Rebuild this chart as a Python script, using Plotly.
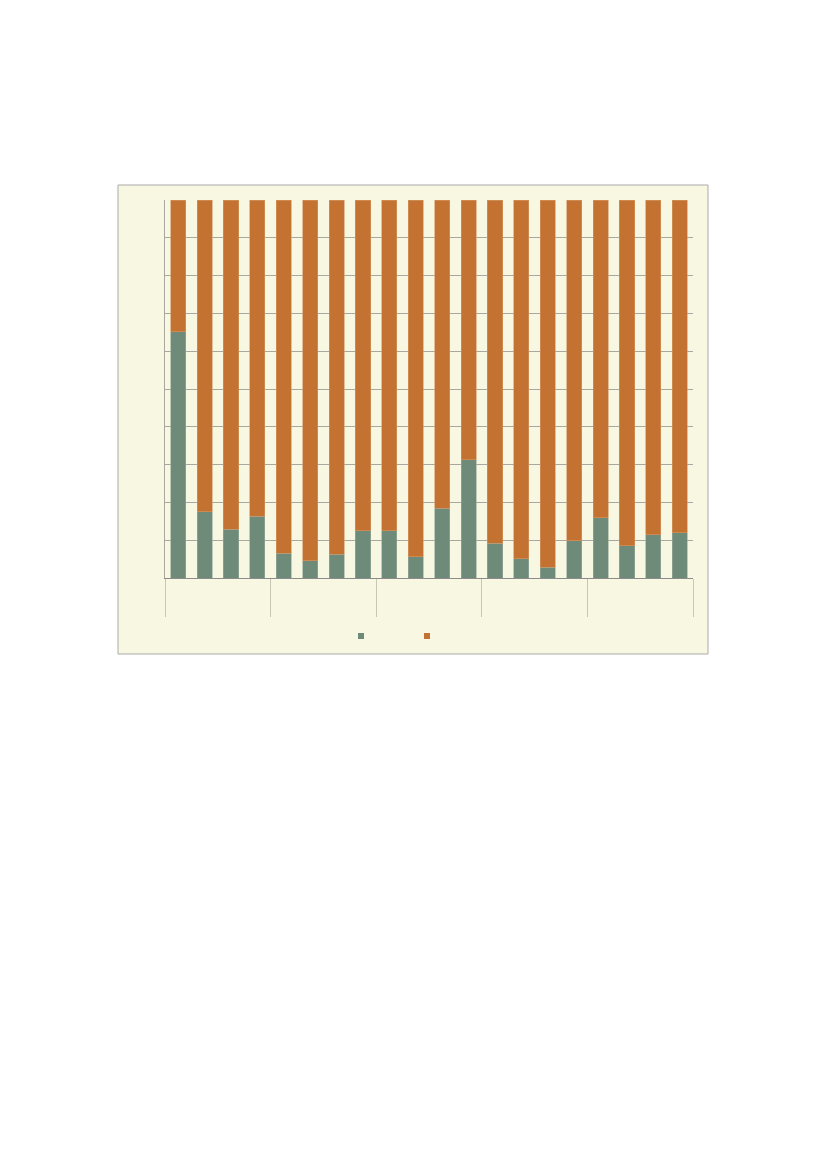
import plotly.graph_objects as go

# dados (percentagens)
grupos = ["G1", "G2", "G3", "G4", "G5"]
itens = ["1", "2", "3", "4"]
serie_a = [65.1, 17.5, 12.9, 16.4,
           6.5, 4.6, 6.3, 12.5,
           12.5, 5.6, 18.5, 31.3,
           9.2, 5.1, 2.9, 9.9,
           16.0, 8.5, 11.4, 12.0]
serie_b = [round(100 - v, 1) for v in serie_a]

cor_a = "#6E8B7A"
cor_b = "#C37231"
fundo = "#F8F7E1"

x_grupo = [g for g in grupos for _ in itens]
x_item = [i for _ in grupos for i in itens]

fig = go.Figure()
fig.add_trace(go.Bar(x=[x_grupo, x_item], y=serie_a, marker_color=cor_a,
                     marker_line=dict(color="#9AAE9E", width=0.6), showlegend=False))
fig.add_trace(go.Bar(x=[x_grupo, x_item], y=serie_b, marker_color=cor_b,
                     marker_line=dict(color="#D49A66", width=0.6), showlegend=False))

# so para a legenda (quadrados pequenos)
fig.add_trace(go.Scatter(x=[None], y=[None], mode="markers", name=" ",
                         marker=dict(symbol="square", size=6, color=cor_a)))
fig.add_trace(go.Scatter(x=[None], y=[None], mode="markers", name="  ",
                         marker=dict(symbol="square", size=6, color=cor_b)))

# moldura do grafico
fig.add_shape(type="rect", xref="paper", yref="paper",
              x0=(118 - 165) / 528, x1=(708 - 165) / 528,
              y0=(578 - 654) / 378, y1=(578 - 185) / 378,
              line=dict(color="#AAAAAA", width=1), fillcolor=fundo, layer="below")

fig.update_layout(
    width=826, height=1169,
    margin=dict(l=157, r=141, t=192, b=599),
    paper_bgcolor="white", plot_bgcolor=fundo,
    barmode="stack", bargap=0.43,
    font=dict(family="Liberation Sans", size=10),
    legend=dict(orientation="h", x=(341 - 165) / 528, xanchor="left",
                y=(578 - 636) / 378, yanchor="middle", traceorder="normal",
                entrywidth=21, entrywidthmode="pixels",
                bgcolor="rgba(0,0,0,0)", font=dict(size=10)),
    xaxis=dict(type="multicategory", showgrid=False, showline=True,
               linecolor="#8C8C8C", linewidth=1, ticks="",
               tickfont=dict(size=14, color="rgba(0,0,0,0)"),
               showdividers=True, dividercolor="#C8C6B4", dividerwidth=1),
    yaxis=dict(range=[0, 100], dtick=10, showgrid=True, gridcolor="#A8A8A0",
               gridwidth=1, showline=True, linecolor="#A8A8A0",
               showticklabels=False, zeroline=False, ticks=""),
)

fig.write_html("out.html")
